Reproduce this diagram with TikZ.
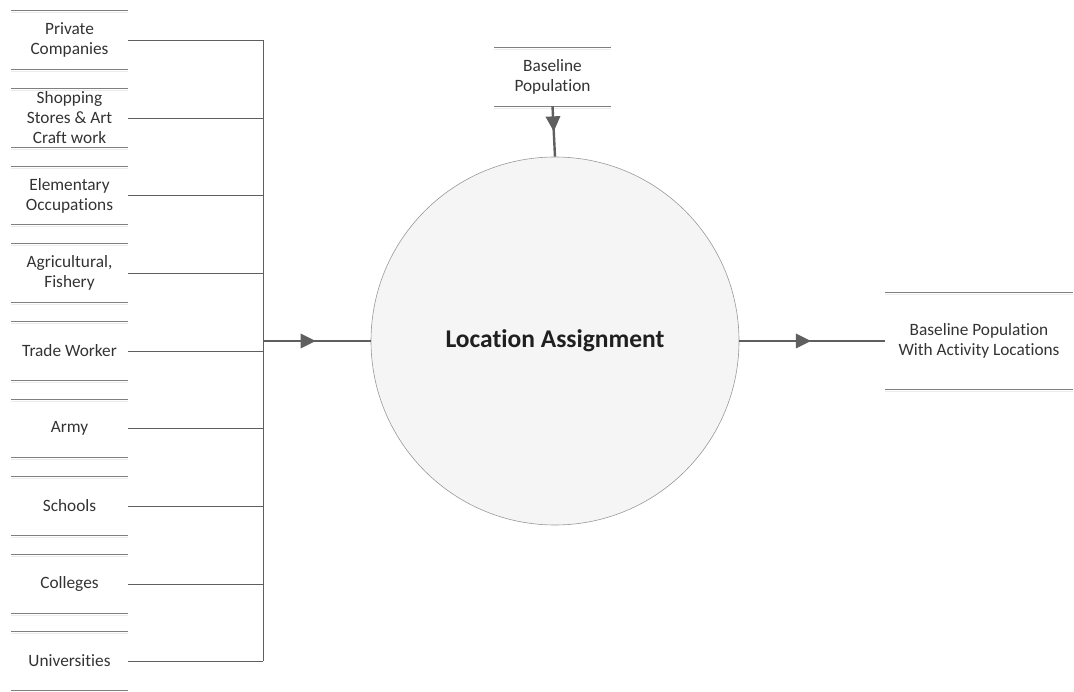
\documentclass[tikz,border=0pt]{standalone}
\usepackage{fontspec}
\setmainfont[RawFeature=-liga]{Carlito}
\usetikzlibrary{decorations.markings}
\definecolor{lineclr}{HTML}{5F5F5F}
\definecolor{storeclr}{HTML}{7F7F7F}
\definecolor{bubblefill}{HTML}{F5F5F5}
\definecolor{textclr}{HTML}{333333}
\tikzset{
  store/.style={minimum width=117pt, minimum height=58pt, inner sep=0pt,
    align=center, font=\fontsize{17.3}{20}\selectfont, text=textclr},
  storeline/.style={draw=storeclr, line width=0.9pt},
  feed/.style={draw=lineclr, line width=0.8pt},
  flow/.style={draw=lineclr, line width=2.4pt, postaction={decorate},
    decoration={markings, mark=at position #1 with {
      \fill[lineclr] (7.5pt,0) -- (-7.5pt,7.5pt) -- (-7.5pt,-7.5pt) -- cycle;}}},
  flow/.default=0.5,
  bubble/.style={circle, minimum size=368pt, draw=gray!80, line width=0.6pt,
    fill=bubblefill, text=black!88, font=\fontsize{25.5}{30}\selectfont\bfseries}
}
\begin{document}
\begin{tikzpicture}[x=1pt, y=-1pt]
\useasboundingbox (0,0) rectangle (1074,692);
% input data stores
\node[store] (s1) at (69.5,40) {Private\\Companies};
\node[store] (s2) at (69.5,118) {Shopping\\Stores \& Art\\Craft work};
\node[store] (s3) at (69.5,195.5) {Elementary\\Occupations};
\node[store] (s4) at (69.5,273) {Agricultural,\\Fishery};
\node[store] (s5) at (69.5,351) {Trade Worker};
\node[store] (s6) at (69.5,428.5) {Army};
\node[store] (s7) at (69.5,506) {Schools};
\node[store] (s8) at (69.5,584) {Colleges};
\node[store] (s9) at (69.5,661) {Universities};
% process bubble
\node[bubble] (proc) at (555,341) {Location Assignment};
% baseline store above
\node[store] (base) at (552.5,77) {Baseline\\Population};
% output store
\node[store, minimum width=188pt, minimum height=97pt] (out) at (979,341)
  {Baseline Population\\With Activity Locations};
% top and bottom rules of every store
\foreach \s in {s1,s2,s3,s4,s5,s6,s7,s8,s9,base,out} {
  \draw[storeline] (\s.north west) -- (\s.north east);
  \draw[storeline] (\s.south west) -- (\s.south east);
  \draw[gray!15, line width=0.8pt] ([yshift=-2pt]\s.north west) -- ([yshift=-2pt]\s.north east);
  \draw[gray!15, line width=0.8pt] ([yshift=-2pt]\s.south west) -- ([yshift=-2pt]\s.south east);
}
% collecting bus
\coordinate (bus) at (263,341);
\draw[feed] (s1.east -| bus) -- (s9.east -| bus);
\foreach \s in {s1,s2,s3,s4,s5,s6,s7,s8,s9}
  \draw[feed] (\s.east) -- (\s.east -| bus);
% flows
\draw[flow=0.42] (bus) -- (proc.west);
\draw[flow=0.35] (base.south) -- (proc.north);
\draw[flow=0.44] (proc.east) -- (out.west);
\end{tikzpicture}
\end{document}
